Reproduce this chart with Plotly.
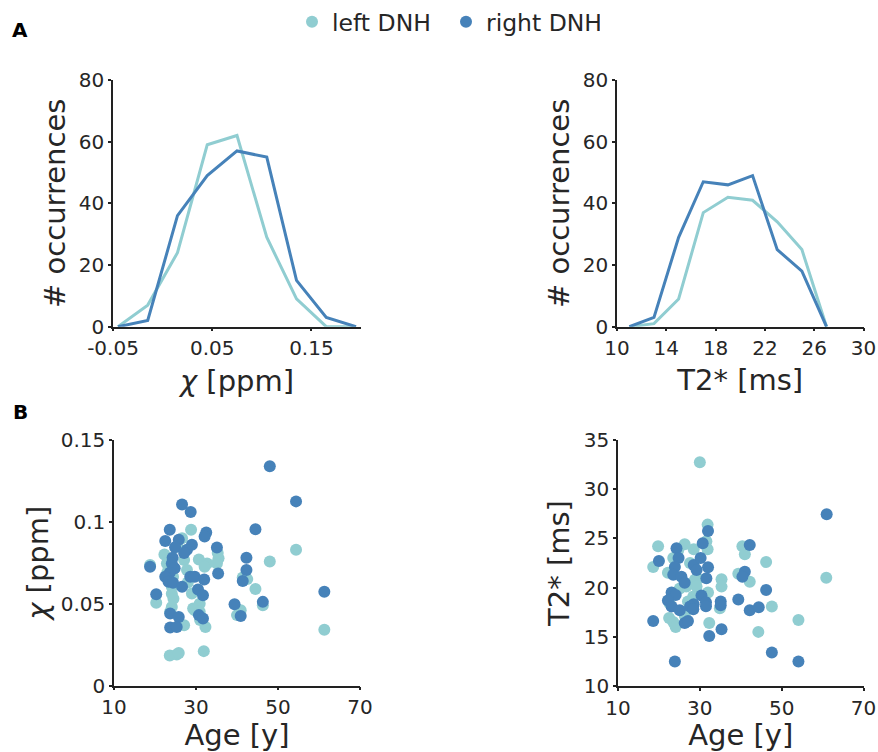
import plotly.graph_objects as go

# ---------------- data ----------------
# Panel A: histograms (bin centres and counts)
chi_bins = [-0.045, -0.015, 0.015, 0.045, 0.075, 0.105, 0.135, 0.165, 0.195]
chi_left_counts = [0, 7, 24, 59, 62, 29, 9, 0, 0]
chi_right_counts = [0, 2, 36, 49, 57, 55, 15, 3, 0]

t2_bins = [11, 13, 15, 17, 19, 21, 23, 25, 27]
t2_left_counts = [0, 1, 9, 37, 42, 41, 34, 25, 0]
t2_right_counts = [0, 3, 29, 47, 46, 49, 25, 18, 0]

# Panel B: scatter, chi vs age
age_chi_left = [54.4, 48, 61.3, 44.5, 46.3, 40, 40.9, 42.5, 18.8, 20.3, 22.3, 22.9, 28.8, 26.6,
                27.1, 27.8, 29, 29.3, 30.7, 32.7, 32.1, 35.3, 35.5, 35.1, 30.9, 32.3, 31.9, 23.6,
                25.3, 25.8, 24.1, 24.1, 24.5, 24.1, 23.7, 27.1, 30.9, 29.7, 24.4, 41.4, 23.0,
                25.5, 28.0, 31.0]
chi_left = [0.083, 0.0757, 0.034, 0.059, 0.049, 0.043, 0.046, 0.065, 0.0736, 0.0505, 0.080, 0.0746,
            0.0951, 0.090, 0.0767, 0.0706, 0.0562, 0.047, 0.077, 0.0746, 0.0726, 0.081, 0.0777,
            0.0746, 0.050, 0.0358, 0.021, 0.0184, 0.019, 0.0198, 0.0603, 0.056, 0.053, 0.048,
            0.045, 0.0368, 0.045, 0.046, 0.0665, 0.066, 0.069, 0.085, 0.063, 0.040]
age_chi_right = [48, 54.4, 26.6, 28.7, 44.5, 23.6, 32.5, 32.1, 22.5, 25.8, 24.9, 29.0, 27.8, 27.1,
                 35.1, 24.3, 42.3, 24.1, 18.8, 24.8, 42.3, 35.4, 23.6, 22.5, 28.6, 29.7, 32.0, 23.3,
                 24.4, 26.6, 41.4, 30.5, 31.7, 20.3, 46.3, 39.4, 61.3, 40.9, 23.7, 25.8, 30.7,
                 31.7, 23.7, 25.3]
chi_right = [0.134, 0.1125, 0.1106, 0.106, 0.0955, 0.0951, 0.0935, 0.091, 0.0883, 0.089, 0.0845,
             0.086, 0.083, 0.081, 0.0843, 0.078, 0.078, 0.0746, 0.0726, 0.0716, 0.0706, 0.0685,
             0.0689, 0.0665, 0.0665, 0.0665, 0.0648, 0.0634, 0.0628, 0.0603, 0.0638, 0.0587,
             0.0552, 0.0558, 0.0511, 0.0497, 0.0573, 0.0425, 0.044, 0.0419, 0.043, 0.0409,
             0.0354, 0.0358]

# Panel B: scatter, T2* vs age
age_t2_left = [30.0, 60.9, 54.1, 47.6, 46.2, 44.3, 42.2, 40.4, 41.0, 39.4, 35.3, 35.3, 34.9, 32.3,
               31.9, 31.6, 31.9, 28.5, 26.3, 19.8, 18.6, 22.2, 23.5, 24.7, 27.6, 28.8, 26.7, 25.1,
               28.4, 32.0, 22.5, 23.5, 24.1, 26.6, 26.3, 27.1, 22.6, 29.6, 29.2]
t2_left = [32.75, 21.0, 16.7, 18.07, 22.6, 15.5, 20.6, 24.2, 23.4, 21.4, 20.85, 20.1, 17.9, 16.4,
           26.4, 24.7, 23.9, 23.9, 24.4, 24.2, 22.1, 21.5, 23.0, 23.8, 22.5, 20.8, 20.1, 19.9,
           19.1, 19.5, 16.9, 16.5, 16.0, 16.5, 17.2, 18.6, 18.4, 20.9, 20.1]
age_t2_right = [61.0, 42.2, 30.7, 32.0, 24.3, 20.0, 24.8, 23.9, 28.5, 30.2, 32.0, 29.2, 23.5, 25.5,
                31.6, 26.3, 41.0, 40.4, 46.2, 23.1, 24.1, 30.4, 22.2, 39.4, 35.1, 31.5, 31.5, 35.1,
                28.5, 27.6, 23.1, 25.1, 28.4, 42.2, 44.4, 18.6, 26.3, 27.1, 35.3, 32.3, 47.6,
                54.1, 23.9]
t2_right = [27.46, 24.34, 24.5, 25.76, 24.0, 22.7, 23.0, 22.1, 22.3, 23.0, 22.07, 21.8, 21.3, 21.1,
            20.95, 20.5, 21.6, 21.1, 19.76, 19.5, 19.25, 19.2, 18.7, 18.8, 18.6, 18.5, 18.1, 18.2,
            18.3, 18.07, 18.07, 17.7, 17.8, 17.7, 18.0, 16.6, 16.4, 16.6, 15.76, 15.08, 13.4,
            12.5, 12.5]

series_names = ["left DNH", "right DNH"]
colors = ["#90CDD1", "#4682B9"]

# ---------------- figure ----------------
FONT = "DejaVu Sans"
fig = go.Figure()

def line(x, y, c, xa, ya):
    fig.add_trace(go.Scatter(x=x, y=y, mode="lines", line=dict(color=c, width=3),
                             xaxis=xa, yaxis=ya, showlegend=False, cliponaxis=False,
                             hoverinfo="skip"))

line(chi_bins, chi_left_counts, colors[0], "x", "y")
line(chi_bins, chi_right_counts, colors[1], "x", "y")
line(t2_bins, t2_left_counts, colors[0], "x2", "y2")
line(t2_bins, t2_right_counts, colors[1], "x2", "y2")

def pts(x, y, c, name, xa, ya, show):
    fig.add_trace(go.Scatter(x=x, y=y, mode="markers", name=name,
                             marker=dict(color=c, size=12, line=dict(width=0)),
                             xaxis=xa, yaxis=ya, showlegend=show, cliponaxis=False))

pts(age_chi_left, chi_left, colors[0], series_names[0], "x3", "y3", True)
pts(age_chi_right, chi_right, colors[1], series_names[1], "x3", "y3", True)
pts(age_t2_left, t2_left, colors[0], series_names[0], "x4", "y4", False)
pts(age_t2_right, t2_right, colors[1], series_names[1], "x4", "y4", False)

W, H = 878, 752
def dx(a, b):
    return [a / W, b / W]
def dy(top, bottom):
    return [1 - bottom / H, 1 - top / H]

axis_common = dict(showline=True, linecolor="#222", linewidth=1.5, ticks="outside",
                   ticklen=3, tickwidth=1.5, tickcolor="#222", showgrid=False,
                   zeroline=False, tickfont=dict(family=FONT, size=20, color="#262626"),
                   automargin=False)
title_font = dict(family=FONT, size=29, color="#262626")
chi_title = "<i>χ</i> [ppm]"

fig.update_layout(
    width=W, height=H,
    margin=dict(l=0, r=0, t=0, b=0),
    paper_bgcolor="white", plot_bgcolor="white",
    font=dict(family=FONT, color="#262626"),
    xaxis=dict(domain=dx(113, 361), range=[-0.05, 0.2], tickvals=[-0.05, 0.05, 0.15],
               ticktext=["-0.05", "0.05", "0.15"], anchor="y",
               title=dict(text=chi_title, font=title_font, standoff=11), **axis_common),
    yaxis=dict(domain=dy(80, 326.7), range=[0, 80], tickvals=[0, 20, 40, 60, 80], anchor="x",
               title=dict(text="# occurrences", font=title_font, standoff=5), **axis_common),
    xaxis2=dict(domain=dx(617, 863.5), range=[10, 30], tickvals=[10, 14, 18, 22, 26, 30],
                anchor="y2", title=dict(text="T2* [ms]", font=title_font, standoff=10),
                **axis_common),
    yaxis2=dict(domain=dy(80, 326.7), range=[0, 80], tickvals=[0, 20, 40, 60, 80], anchor="x2",
                title=dict(text="# occurrences", font=title_font, standoff=5), **axis_common),
    xaxis3=dict(domain=dx(114, 360), range=[10, 70], tickvals=[10, 30, 50, 70], anchor="y3",
                title=dict(text="Age [y]", font=title_font, standoff=17), **axis_common),
    yaxis3=dict(domain=dy(440, 685.5), range=[0, 0.15], tickvals=[0, 0.05, 0.1, 0.15],
                ticktext=["0", "0.05", "0.1", "0.15"], anchor="x3",
                title=dict(text=chi_title, font=title_font, standoff=4), **axis_common),
    xaxis4=dict(domain=dx(618, 863.5), range=[10, 70], tickvals=[10, 30, 50, 70], anchor="y4",
                title=dict(text="Age [y]", font=title_font, standoff=17), **axis_common),
    yaxis4=dict(domain=dy(440, 686), range=[10, 35], tickvals=[10, 15, 20, 25, 30, 35],
                anchor="x4", title=dict(text="T2* [ms]", font=title_font, standoff=6),
                **axis_common),
    legend=dict(orientation="h", x=292 / W, y=1 - 22 / H, xanchor="left", yanchor="middle",
                font=dict(family=FONT, size=23.5, color="#262626"), bgcolor="rgba(0,0,0,0)",
                itemsizing="constant", entrywidth=109, entrywidthmode="pixels"),
    annotations=[
        dict(text="<b>A</b>", x=20 / W, y=1 - 30 / H, xref="paper", yref="paper",
             xanchor="center", yanchor="middle",
             showarrow=False, font=dict(family=FONT, size=20, color="#000")),
        dict(text="<b>B</b>", x=20 / W, y=1 - 412 / H, xref="paper", yref="paper",
             xanchor="center", yanchor="middle",
             showarrow=False, font=dict(family=FONT, size=20, color="#000")),
    ],
)

fig.write_html(
    "out.html",
    config={"displayModeBar": False},
    post_script="document.body.style.margin='0';document.body.style.overflow='hidden';",
)
